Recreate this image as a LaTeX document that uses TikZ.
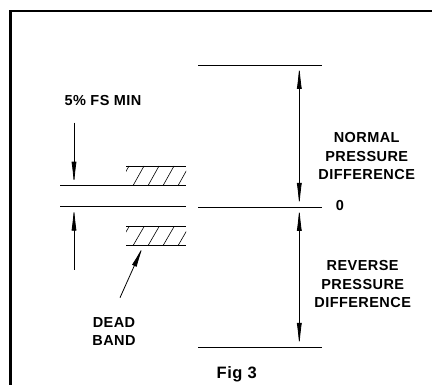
\documentclass[tikz,border=0pt]{standalone}
\usepackage{fontspec}
\setmainfont{Liberation Sans}[LetterSpace=3]
\usetikzlibrary{arrows.meta}
\tikzset{
  thin line/.style={line width=0.8pt, black},
  dimarrow/.style={thin line, -{Latex[length=24pt,width=5pt]}},
  dimboth/.style={thin line, {Latex[length=24pt,width=5pt]}-{Latex[length=24pt,width=5pt]}},
  label/.style={font=\bfseries\fontsize{14.5}{18.2}\selectfont, inner sep=0pt, align=center, anchor=base},
  hatch/.style={line width=0.6pt, black}
}
\begin{document}
\begin{tikzpicture}[x=1pt,y=-1pt]
\useasboundingbox (0,0) rectangle (432,385);
% frame
\draw[line width=2.6pt] (10.7,385) -- (10.7,11) -- (432,11);
% right side levels
\coordinate (t1) at (198,65);  \coordinate (t2) at (322,65);
\coordinate (z1) at (198,207); \coordinate (z2) at (322,207);
\coordinate (b1) at (198,347); \coordinate (b2) at (322,347);
\draw[thin line] (t1) -- (t2);
\draw[thin line] (z1) -- (z2);
\draw[thin line] (b1) -- (b2);
\coordinate (dt) at (299.3,65);
\coordinate (dz) at (299.3,207);
\coordinate (db) at (299.3,347);
\draw[dimboth] (dt) -- (dz);
\draw[dimboth] (dz) -- (db);
% left side lines
\coordinate (u1) at (60,185.7); \coordinate (u2) at (186,185.7);
\coordinate (l1) at (60,206.7); \coordinate (l2) at (186,206.7);
\draw[thin line] (u1) -- (u2);
\draw[thin line] (l1) -- (l2);
% hatched bands
\draw[thin line] (126,166) -- (186,166);
\draw[thin line] (126,226.7) -- (186,226.7);
\draw[thin line] (126,245.7) -- (186,245.7);
\begin{scope}
\clip (126,166) rectangle (186,185.7);
\foreach \x in {118,133,148,163,178}{
  \draw[hatch] (\x,185.7) -- ({\x+11},166);
}
\end{scope}
\begin{scope}
\clip (126,226.7) rectangle (186,245.7);
\foreach \x in {118,133,148,163,178}{
  \draw[hatch] (\x,245.7) -- ({\x+11},226.7);
}
\end{scope}
% left dimension arrows
\coordinate (a1) at (74,122.7); \coordinate (a2) at (74,185.7);
\coordinate (c1) at (74,270);   \coordinate (c2) at (74,206.7);
\draw[dimarrow] (a1) -- (a2);
\draw[dimarrow] (c1) -- (c2);
% dead band arrow
\coordinate (d1) at (120,297.7); \coordinate (d2) at (143.3,245.7);
\draw[thin line, -{Latex[length=22pt,width=5pt]}] (d1) -- (d2);
% labels (base anchor = baseline of last line)
\node[label] (fs) at (103,106) {5\% FS MIN};
\node[label] (zero) at (340,210.5) {0};
\node[label] (normal) at (366.7,179.3) {NORMAL\\PRESSURE\\DIFFERENCE};
\node[label] (reverse) at (362.7,307.3) {REVERSE\\PRESSURE\\DIFFERENCE};
\node[label] (dead) at (114,345.7) {DEAD\\BAND};
\node[label, font=\bfseries\fontsize{16.5}{20}\selectfont] (fig) at (236.7,378.3) {Fig 3};
\end{tikzpicture}
\end{document}
